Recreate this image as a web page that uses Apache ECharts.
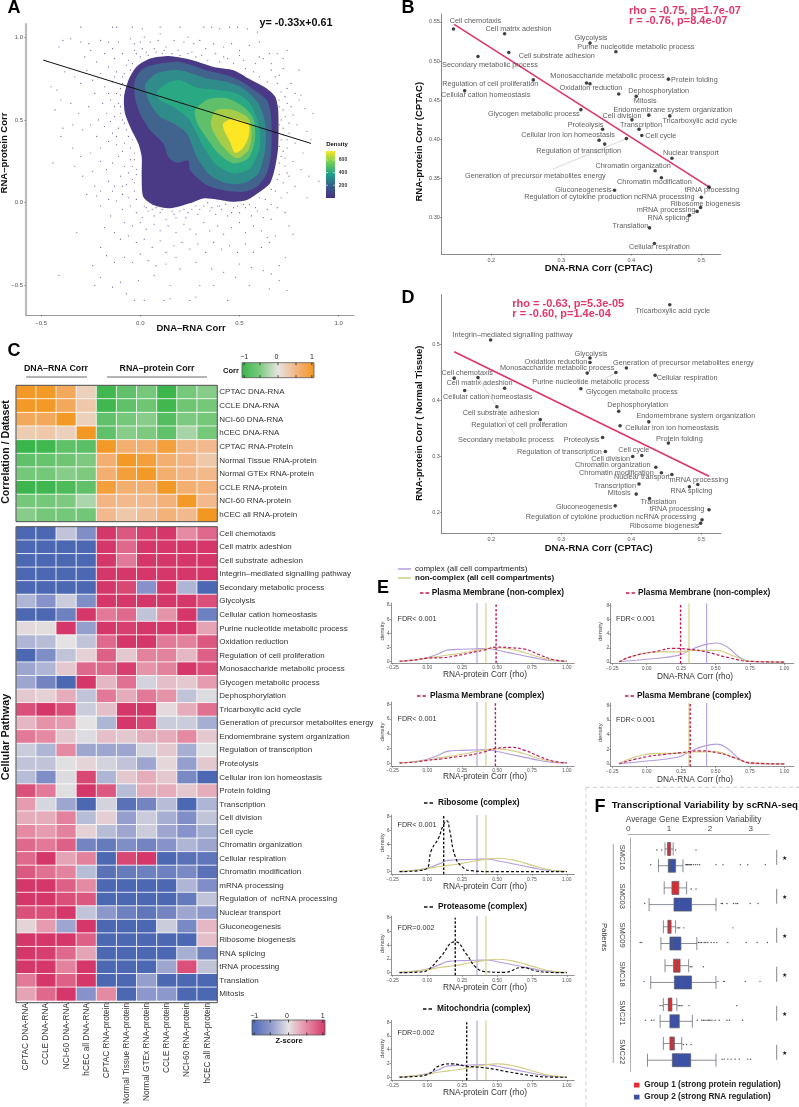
<!DOCTYPE html>
<html><head><meta charset="utf-8">
<style>html,body{margin:0;padding:0;background:#fff}#c{width:799px;height:1107px}</style>
<script src="https://cdn.jsdelivr.net/npm/echarts@6/dist/echarts.min.js"></script>
</head><body><div id="c"></div>
<script>
// ---------- DATA ----------
const aContour1=[[-.06,.74],[-.02,.82],[.05,.87],[.15,.885],[.25,.865],[.37,.82],[.47,.8],[.545,.75],[.637,.69],[.68,.64],[.695,.56],[.695,.34],[.68,.217],[.654,.117],[.603,.066],[.536,.016],[.469,.006],[.385,.02],[.318,.026],[.25,-.004],[.15,-.034],[.066,-.014],[.015,.036],[.007,.157],[.007,.278],[-.01,.358],[-.044,.439],[-.077,.539],[-.082,.64]];
const aContour2=[[-.027,.74],[.015,.81],[.1,.84],[.2,.85],[.334,.8],[.435,.77],[.5,.74],[.587,.67],[.637,.62],[.657,.54],[.662,.418],[.657,.278],[.637,.177],[.587,.097],[.519,.066],[.435,.072],[.334,.107],[.25,.197],[.242,.254],[.183,.241],[.141,.278],[.116,.358],[.049,.439],[-.002,.539],[-.027,.64]];
const aContour3=[[.024,.71],[.082,.78],[.2,.8],[.334,.75],[.435,.73],[.519,.69],[.595,.6],[.629,.479],[.629,.318],[.595,.177],[.519,.117],[.435,.117],[.351,.167],[.284,.278],[.234,.419],[.166,.479],[.099,.519],[.049,.6]];
const aContour4=[[.086,.67],[.133,.72],[.2,.74],[.284,.696],[.368,.684],[.486,.66],[.553,.6],[.595,.479],[.603,.338],[.553,.207],[.469,.177],[.385,.227],[.318,.338],[.284,.419],[.242,.509],[.166,.579],[.099,.62]];
const aContour5=[[.276,.559],[.343,.624],[.435,.63],[.519,.579],[.57,.509],[.578,.378],[.545,.268],[.469,.237],[.393,.298],[.318,.419],[.284,.489]];
const aContour6=[[.355,.489],[.385,.559],[.469,.559],[.545,.509],[.561,.419],[.545,.318],[.486,.268],[.418,.338],[.368,.429]];
const aContour7=[[.418,.479],[.469,.509],[.545,.475],[.545,.398],[.516,.328],[.477,.302],[.452,.368],[.422,.439]];
const aContourColors=['#4a3a85','#41648f','#2f8c8b','#2aa884','#5fbf6b','#a5cd48','#fde725'];
const aFitLine=[[-.489,.861],[.86,.358]];
const aNoise=[[-.3,1.06],[-.14,1.06],[-.12,1.06],[-.04,1.06],[.01,1.05],[.1,1.06],[.2,1.06],[.32,1.06],[.36,1.06],[.4,1.05],[.45,1.06],[.49,1.06],[.54,1.05],[.59,1.03],
[-.41,.94],[-.39,.98],[-.35,.99],[-.3,.97],[-.26,.96],[-.25,.92],[-.2,.98],[-.16,.97],[-.14,.93],[-.11,.97],[-.05,.99],[-.03,.96],[0,.97],[.02,1],[.05,.97],[.09,.98],[.1,1.02],[.13,.94],[.17,.98],[.22,.97],[.24,1],[.27,.96],[.3,.98],[.33,.93],[.37,.96],[.42,.94],[.46,.96],[.5,.92],[.55,.95],[.6,.97],[.65,.9],[.69,.9],[.72,.87],[.74,.92],[.8,.8],
[-.28,.88],[-.22,.85],[-.18,.9],[-.13,.87],[-.09,.9],[-.06,.86],[-.03,.92],[0,.88],[.03,.91],[.07,.93],[.11,.9],[.19,.92],[.26,.91],[.31,.89],[.38,.9],[.44,.87],[.52,.86],[.58,.84],[.62,.87],[.66,.8],[.7,.77],[.76,.72],[.72,.81],[.78,.66],[.81,.65],[.74,.69],
[-.45,.7],[-.42,.68],[-.38,.79],[-.33,.76],[-.3,.72],[-.27,.8],[-.24,.74],[-.2,.78],[-.18,.7],[-.16,.82],[-.14,.73],[-.12,.79],[-.1,.69],[-.09,.76],[-.07,.83],[-.12,.66],[-.15,.62],[-.19,.6],[-.23,.66],[-.26,.58],[-.31,.54],[-.35,.6],[-.4,.62],[-.43,.56],[-.1,.58],[-.13,.52],[-.17,.54],[-.21,.5],[-.25,.47],[-.29,.44],[-.34,.47],[-.39,.45],[-.4,.4],[-.09,.5],[-.11,.45],[-.14,.42],[-.18,.46],[-.22,.4],[-.06,.4],[-.08,.36],[-.12,.35],[-.16,.37],[-.2,.33],[-.25,.3],[-.3,.28],[-.34,.33],[-.44,.24],[-.03,.3],[-.05,.26],[-.08,.22],[-.11,.28],[-.14,.24],[-.17,.2],[-.2,.25],[-.24,.19],[-.29,.16],[-.33,.22],[-.02,.2],[-.04,.14],[-.07,.11],[-.1,.16],[-.13,.1],[-.16,.13],[-.2,.07],[-.23,.1],[-.27,.05],[-.03,.07],[-.06,.03],[-.09,.05],[-.12,.01],[-.16,.02],[-.2,-.02],[-.22,.04],
[.7,.62],[.72,.56],[.74,.6],[.71,.5],[.77,.53],[.8,.62],[.83,.57],[.87,.54],[.72,.45],[.75,.42],[.79,.47],[.84,.43],[.71,.38],[.74,.33],[.78,.36],[.82,.3],[.86,.38],[.71,.28],[.73,.22],[.77,.25],[.81,.2],[.85,.16],[.9,.13],[.7,.17],[.72,.12],[.75,.16],[.78,.1],[.68,.07],[.71,.03],[.74,.06],[.84,.03],[.63,.02],[.66,-.01],[.69,-.03],[.73,-.06],
[-.09,-.04],[-.05,-.02],[-.02,-.06],[.01,-.09],[.04,-.05],[.07,-.08],[.1,-.06],[.13,-.1],[.17,-.07],[.2,-.05],[.23,-.09],[.26,-.04],[.29,-.07],[.32,-.02],[.35,-.05],[.36,-.03],[.38,-.07],[.41,-.04],[.44,-.08],[.47,-.03],[.5,-.06],[.53,-.03],[.56,-.08],[.59,-.05],[.62,-.09],[.66,-.1],[-.08,-.12],[-.04,-.14],[0,-.12],[.03,-.16],[.07,-.13],[.1,-.17],[.14,-.14],[.18,-.18],[.22,-.13],[.25,-.16],[.28,-.19],[.32,-.12],[.35,-.17],[.39,-.14],[.42,-.19],[.46,-.15],[.5,-.12],[.53,-.18],[.57,-.14],[.61,-.17],[.64,-.21],[.68,-.2],[.75,-.14],[.77,-.19],
[-.15,-.08],[-.13,-.18],[-.1,-.22],[-.06,-.2],[-.02,-.24],[.02,-.22],[.06,-.27],[.1,-.23],[.13,-.3],[.17,-.26],[.21,-.24],[.25,-.28],[.29,-.25],[.33,-.3],[.37,-.24],[.41,-.28],[.45,-.26],[.49,-.3],[.53,-.25],[.57,-.3],[.61,-.27],[.65,-.24],[-.18,-.15],[-.2,-.27],[-.17,-.32],[-.13,-.36],[-.08,-.33],[-.04,-.36],[0,-.31],[.04,-.35],[.08,-.38],[.13,-.37],[.18,-.33],[.2,-.4],[.28,-.36],[.36,-.4],[.42,-.42],[.5,-.37],[.56,-.39],[.62,-.41],[.73,-.33],[.7,-.38],[-.32,-.18],[-.24,-.38],[-.41,-.44],[-.23,-.5],[-.2,-.45],[-.14,-.51],[-.1,-.48],[-.07,-.55],[-.03,-.59],[.02,-.59],[.12,-.59],[.15,-.58],[.25,-.59],[.28,-.57],[.3,-.5],[.44,-.59],[.37,-.5],[.48,-.45],[.55,-.5],[.65,-.52],[.66,-.43],[.74,-.53],[.7,-.47],[.15,-.5],[-.01,-.47],[.07,-.44],
[-.02,.9],[.01,.93],[.04,.89],[.08,.91],[.12,.92],[.16,.9],[.2,.89],[.24,.9],[.28,.88],[.34,.86],[.4,.85],[.47,.84],[.53,.81],[.57,.79],[.6,.76],[.64,.73],[.69,.72],[.71,.67],[.73,.64],[.7,.58],[.73,.52],[.7,.47],[.72,.41],[.7,.34],[.72,.31],[.7,.24],[.69,.14],[.66,.08],[.6,.03],[.55,-.01],[.49,-.02],[.43,-.01],[.39,-.02],[.34,0],[.28,-.02],[.22,-.04],[.16,-.05],[.11,-.04],[.06,-.04],[.02,-.02],[-.02,.02],[-.03,.12],[-.02,.17],[-.04,.22],[-.03,.26],[-.05,.33],[-.04,.38],[-.07,.44],[-.08,.48],[-.1,.54],[-.11,.6],[-.1,.65],[-.09,.72],[-.08,.78],[-.05,.8],[-.04,.84],[-.13,.76],[-.16,.66],[-.13,.58],[-.15,.49],[-.12,.4],[-.09,.31],[-.09,.1],[-.14,.07],[-.06,.18],[.03,-.03],[.08,-.03],[.18,-.09],[.24,-.06],[.3,-.04],[.4,-.02],[.46,-.06],[.52,-.01],[.58,-.03],[.64,-.04],[.74,.18],[.73,.27],[.74,.38],[.75,.48],[.76,.58],[.68,.76],[.66,.84],[.6,.88],[.5,.89],[.42,.88]];
const aLegendTicks=[200,400,600];

const bdNames=['Cell chemotaxis','Cell matrix adeshion','Secondary metabolic process','Cell substrate adhesion','Glycolysis','Purine nucleotide metabolic process','Regulation of cell proliferation','Cellular cation homeostasis','Monosaccharide metabolic process','Oxidation reduction','Protein folding','Dephosphorylation','Mitosis','Glycogen metabolic process','Endomembrane system organization','Tricarboxylic acid cycle','Cell division','Transcription','Proteolysis','Cellular iron ion homeostasis','Regulation of transcription','Generation of precursor metabolites energy','Cell cycle','Nuclear transport','Chromatin organization','Chromatin modification','tRNA processing','Gluconeogenesis','Regulation of cytokine production ncRNA processing','Ribosome biogenesis','mRNA processing','RNA splicing','Translation','Cellular respiration'];
const bPoints=[[.146,.541],[.219,.535],[.181,.506],[.225,.511],[.341,.523],[.378,.512],[.26,.476],[.162,.462],[.336,.472],[.341,.471],[.453,.477],[.382,.458],[.407,.455],[.328,.438],[.425,.431],[.455,.43],[.401,.425],[.411,.413],[.359,.413],[.354,.399],[.362,.394],[.393,.401],[.415,.405],[.458,.376],[.434,.36],[.443,.351],[.511,.339],[.376,.335],[.5,.326],[.499,.313],[.494,.308],[.483,.303],[.426,.287],[.433,.267]];
const bLabelShift=[[22,-8],[14,-5],[12,9],[48,3],[1,-5],[20,-5],[-43,4],[21,4],[21,-7],[1,4],[26,1],[40,-3],[9,5],[-47,4],[24,-5],[30,5],[-10,-4],[2,-4],[-17,-4],[-31,-5],[-26,7],[-91,37],[19,1],[19,-5],[-22,-5],[-7,4],[3,3],[-31,0],[-92,0],[5,-4],[-31,-1],[-21,3],[-19,-2],[5,3]];
const bFit=[[.147,.547],[.513,.338]];
const bLeader=[[.393,.401],[.288,.362]];
const dNames=['Tricarboxylic acid cycle','Integrin–mediated signalling pathway','Glycolysis','Oxidation reduction','Generation of precursor metabolites energy','Monosaccharide metabolic process','Purine nucleotide metabolic process','Cellular respiration','Cell chemotaxis','Secondary metabolic process','Cell matrix adeshion','Cellular cation homeostasis','Glycogen metabolic process','Dephosphorylation','Cell substrate adhesion','Regulation of cell proliferation','Endomembrane system organization','Cellular iron ion homeostasis','Proteolysis','Protein folding','Regulation of transcription','Cell cycle','Cell division','Chromatin organization','Chromatin modification','Nuclear transport','mRNA processing','Transcription','RNA splicing','Mitosis','Translation','Gluconeogenesis','tRNA processing','Regulation of cytokine production ncRNA processing','Ribosome biogenesis'];
const dPoints=[[.455,.57],[.199,.507],[.341,.475],[.341,.467],[.393,.457],[.337,.448],[.378,.449],[.434,.444],[.147,.439],[.181,.44],[.219,.421],[.162,.417],[.328,.42],[.382,.38],[.208,.388],[.27,.365],[.425,.361],[.384,.354],[.359,.333],[.453,.323],[.363,.308],[.415,.301],[.402,.299],[.435,.28],[.443,.27],[.458,.267],[.495,.249],[.411,.25],[.483,.245],[.407,.232],[.426,.224],[.377,.211],[.511,.204],[.501,.186],[.499,.18]];
const dLabelShift=[[3,6],[22,-5],[1,-4],[-34,0],[57,-5],[-30,-5],[-25,9],[32,3],[13,-5],[28,62],[-25,-5],[23,7],[51,3],[19,-6],[4,6],[-21,5],[47,-6],[52,2],[-21,2],[11,-4],[-46,0],[-8,-5],[-22,2],[-43,-2],[-45,0],[-30,3],[1,-5],[-24,2],[2,4],[-17,-1],[9,3],[-31,1],[-32,-1],[-91,-3],[-36,3]];
const dFit=[[.147,.486],[.511,.264]];
const dLeader1=[[.181,.44],[.233,.34]];
const dLeader2=[[.378,.449],[.36,.436]];

const cColumns=['CPTAC DNA-RNA','CCLE DNA-RNA','NCI-60 DNA-RNA','hCEC all DNA-RNA','CPTAC RNA-protein','Normal Tissue RNA-protein','Normal GTEx RNA-protein','CCLE RNA-protein','NCI-60 RNA-protein','hCEC all RNA-protein'];
const cCorrRows=['CPTAC DNA-RNA','CCLE DNA-RNA','NCI-60 DNA-RNA','hCEC DNA-RNA','CPTAC RNA-Protein','Normal Tissue RNA-protein','Normal GTEx RNA-protein','CCLE RNA-protein','NCI-60 RNA-protein','hCEC all RNA-protein'];
const cCorr=[[.95,.95,.7,.2,-.95,-.7,-.55,-.98,-.55,-.45],[.95,.95,.7,.3,-.95,-.7,-.6,-.95,-.6,-.55],[.7,.7,.95,.2,-.7,-.55,-.45,-.8,-.5,-.55],[.25,.3,.2,.98,-.7,-.45,-.5,-.7,-.3,-.55],[-1,-.95,-.72,-.75,.95,.6,.6,.85,.5,.45],[-.7,-.65,-.6,-.5,.6,.95,.85,.6,.5,.3],[-.55,-.55,-.45,-.5,.6,.85,.95,.6,.5,.45],[-.98,-.95,-.85,-.7,.85,.6,.6,.95,.6,.55],[-.55,-.55,-.5,-.28,.5,.45,.45,.55,.95,.45],[-.45,-.55,-.55,-.58,.45,.3,.4,.55,.45,.98]];
const cPathRows=['Cell chemotaxis','Cell matrix adeshion','Cell substrate adhesion','Integrin–mediated signalling pathway','Secondary metabolic process','Glycolysis','Cellular cation homeostasis','Purine nucleotide metabolic process','Oxidation reduction','Regulation of cell proliferation','Monosaccharide metabolic process','Glycogen metabolic process','Dephosphorylation','Tricarboxylic acid cycle','Generation of precursor metabolites energy','Endomembrane system organization','Regulation of transcription','Proteolysis','Cellular iron ion homeostasis','Protein folding','Transcription','Cell division','Cell cycle','Chromatin organization','Cellular respiration','Chromatin modification','mRNA processing','Regulation of  ncRNA processing','Nuclear transport','Gluconeogenesis','Ribosome biogenesis','RNA splicing','tRNA processing','Translation','Mitosis'];
const cPath=[[-1,-1,-.2,-.6,1,.8,.95,1,.5,.7],[-1,-1,-1,-1,1,.7,1,1,1,1],[-1,-1,-1,-1,1,.6,1,1,1,1],[-1,-1,-1,-1,1,1,1,1,1,1],[-1,-1,-1,-1,1,.9,-.55,1,-.3,-1],[-.3,-.55,-.15,-.6,1,1,1,1,1,.85],[-1,-1,-.75,1,.6,.7,-.2,.45,1,-.75],[.05,.03,1,-.45,1,.95,1,1,1,.35],[-.3,-.25,0,-.2,.7,1,1,.6,.55,.8],[-1,-.6,-.2,.1,.75,.15,.55,.55,.25,.75],[-.4,-.3,.15,.7,.7,.95,.45,.55,1,.85],[-.4,-.7,-1,1,.25,.65,-.1,.2,.15,.4],[.15,.1,.3,-.2,.6,.3,.6,.45,-.2,-.05],[.85,1,.85,-.15,.2,1,1,.05,.3,.65],[.25,.45,.4,0,-.3,1,.9,-.15,-.15,-.35],[.6,.5,.15,-.05,.2,.15,.3,.3,.5,.15],[-.15,-.3,.5,-.4,-.4,-.4,-.1,.15,-.35,-.02],[-.2,-.2,-.02,.08,-.1,-.2,-.4,.07,-.45,.15],[-.25,-.6,-.05,.9,-.3,.15,.3,.15,-.65,-1],[.85,.6,-.03,1,.8,-.25,.3,.3,.15,.3],[.4,-.08,-.4,-1,-.1,-.9,-.7,-.25,-1,-.3],[.3,.3,.55,-.25,.12,-.45,-.15,-.35,-.6,-.2],[.5,.4,.55,.1,-.25,-.4,-.15,-.4,-.55,-.35],[.7,.6,.75,-.7,-.8,-.6,-.7,-.55,-.3,-.4],[.7,1,.35,.55,-1,.9,1,-1,-.9,-.85],[.8,.65,.55,-.25,-.9,-.8,-.75,-.75,-.65,-.9],[1,1,.75,.5,-1,-1,-1,-1,-.3,-.6],[1,1,.85,.8,-1,-1,-1,-1,-.8,-.2],[.85,.85,1,-.2,-.5,-.75,-.85,-.7,-.4,-.5],[.08,.4,-.4,1,-1,-1,-1,-.15,-.65,.25],[1,1,1,.75,-1,-1,-1,-1,-1,.2],[1,.95,.7,.35,-1,-1,-1,-1,-.35,-.75],[1,1,.55,1,-1,-1,-1,-.4,.85,-.2],[.6,1,.75,1,-1,-1,-.45,-1,-1,-1],[.35,.7,1,-.55,.5,-1,-.5,-.5,-1,-1]];
const cCorrColors=['#39b54a','#7cc97f','#e6e4e0','#f3b583','#f2961e'];
const cZColors=['#4d68b2','#8c97cb','#e4e2e2','#e58aa3','#d5376a'];

const eRnaComplex=[[-.2,.05],[-.1,.2],[0,.55],[.08,1.1],[.15,1.65],[.25,1.75],[.35,1.8],[.42,1.85],[.5,1.6],[.6,1.2],[.7,.8],[.8,.4],[.9,.12],[1,.03]];
const eRnaNon=[[-.2,.05],[-.1,.2],[0,.45],[.1,.8],[.2,1.05],[.3,1.4],[.4,1.75],[.5,1.95],[.6,1.75],[.7,1.25],[.8,.65],[.9,.2],[1,.04]];
const eDnaComplex=[[-.2,.05],[0,.4],[.23,.95],[.31,1.65],[.41,2.4],[.51,2.7],[.59,2.05],[.68,.6],[.77,.05],[1,0]];
const eDnaNon=[[-.2,.05],[-.1,.85],[.07,1.45],[.22,1.45],[.34,1.65],[.51,1.65],[.63,.85],[.75,.15],[1,0]];
const ePmNonRna=[[-.2,.05],[-.1,.2],[0,.5],[.1,.55],[.2,.8],[.3,1.2],[.4,1.6],[.5,2.05],[.6,1.95],[.7,1.75],[.8,1],[.9,.3],[1,.05]];
const ePmComplexRna=[[-.2,.05],[-.1,.15],[0,.4],[.1,.6],[.2,.85],[.3,1.1],[.4,1.5],[.5,2.05],[.6,2.15],[.7,1.75],[.8,.95],[.9,.3],[1,.05]];
const ePmNonDna=[[-.2,.05],[-.1,.85],[.07,1.5],[.19,1.95],[.31,1.8],[.43,1.45],[.6,.6],[.75,.1],[1,0]];
const ePmComplexDna=[[-.2,.05],[0,1],[.13,1.3],[.25,1.55],[.38,1.8],[.52,1.5],[.64,.85],[.76,.15],[1,0]];
const eRibosome=[[-.2,0],[-.02,.3],[.03,3.2],[.08,4.9],[.115,6.8],[.14,7.4],[.16,6],[.2,2.2],[.25,.7],[.31,.15],[.5,0],[1,0]];
const eProteasome=[[-.2,0],[-.05,.1],[0,.35],[.09,2.2],[.2,4.5],[.28,2.7],[.35,.75],[.42,.15],[.55,.05],[.68,.75],[.78,.25],[.88,.05],[1,0]];
const eMito=[[-.2,.02],[-.1,.1],[0,.4],[.09,1.7],[.175,1.95],[.28,1.6],[.425,1.35],[.59,.75],[.76,.2],[.88,.03],[1,0]];
const eMedians={rnaComplex:.356,rnaNon:.42,dnaComplex:.435,dnaNon:.307,pmNonRna:.493,pmComplexRna:.488,pmNonDna:.246,pmComplexDna:.316,ribosome:.117,proteasome:.2,mito:.282};

const fPatients=['SMC16','SMC03','SMC09','SMC18','SMC21','SMC22'];
const fRedBoxes=[[.9,.96,1,1.04,1.1],[.88,1.07,1.15,1.24,1.43],[.86,.97,1,1.05,1.16],[.9,1.11,1.18,1.27,1.48],[.86,.98,1,1.07,1.19],[.86,1.02,1.07,1.13,1.31]];
const fBlueBoxes=[[.74,.98,1.04,1.16,1.34],[.51,1.12,1.26,1.55,2.15],[.8,1.02,1.08,1.29,1.68],[.55,1.13,1.31,1.55,2.15],[.78,1.02,1.11,1.25,1.57],[.47,1.08,1.2,1.53,2.15]];
const fRedOut=[[.7,.82,1.16,1.66],[1.54,1.66],[1.2,1.23,1.26,1.36,2.57],[1.52,1.56,1.84],[.78,.83,1.22,1.25,1.29,1.32,1.49,2.66],[1.35,1.43,1.54]];
const fBlueOut=[[.55,1.41,1.43,1.45,1.47,1.5,1.53,1.55,1.6,1.65,1.7,1.75,2.15,2.32,2.75,2.93,3.36],[.4,2.28,2.31,2.42,2.58,2.64,2.68,2.99,3.18],[.29,.33,1.72,1.76,1.8,1.86,1.9,1.95,2.03,2.1,2.17,2.44,2.89,3.16,3.41],[.39,2.2,2.34,2.36,2.87,3.23],[.42,.57,.63,1.69,1.8,1.84,1.88,1.93,1.97,2,2.05,2.13,2.23,2.42,2.48,2.8],[2.3,2.35,2.44,2.52,2.62,2.72,2.93,3]];

// ---------- HELPERS ----------
const FONT='"Liberation Sans",Arial,sans-serif';
const grids=[],xAxes=[],yAxes=[],series=[],gfx=[],vmaps=[];
function T(x,y,text,o={}){gfx.push({type:'text',x,y,rotation:(o.rot||0)*Math.PI/180,z:50,silent:true,style:{text,fill:o.color||'#111',
 font:(o.bold?'bold ':'')+(o.size||8)+'px '+FONT,align:o.align||'center',verticalAlign:'middle',textAlign:o.align||'center',textVerticalAlign:'middle'}});}
function L(x1,y1,x2,y2,color,w,dash){gfx.push({type:'line',z:50,silent:true,shape:{x1,y1,x2,y2},style:{stroke:color,lineWidth:w||1,lineDash:dash||null}});}
function R(x,y,w,h,fill,stroke,sw){gfx.push({type:'rect',z:50,silent:true,shape:{x,y,width:w,height:h},style:{fill:fill||'none',stroke:stroke||'none',lineWidth:sw||1}});}
function plot(box,xa,ya){const i=grids.length;
 grids.push({left:box[0],top:box[1],width:box[2]-box[0],height:box[3]-box[1],containLabel:false});
 xAxes.push(Object.assign({gridIndex:i,splitLine:{show:false}},xa));
 yAxes.push(Object.assign({gridIndex:i,splitLine:{show:false}},ya));
 return i;}
function valAxis(min,max,ticks,fmt,fs,color,lw,margin){return {type:'value',min,max,
 axisLine:{show:true,onZero:false,lineStyle:{color:color||'#8a8a8a',width:lw||1}},
 axisTick:{show:true,length:1.5,customValues:ticks,lineStyle:{color:'#555',width:.6}},
 axisLabel:{customValues:ticks,fontSize:fs,color:'#555',fontFamily:FONT,margin:margin||2.5,formatter:fmt}};}
const fix=n=>v=>v.toFixed(n).replace('-','−');

// ---------- PANEL A ----------
{const g=plot([26,24,354,315],valAxis(-.576,1.077,[-.5,0,.5,1],fix(1),6,'#999',1.2,5),valAxis(-.678,1.079,[-.5,0,.5,1],fix(1),6,'#bbb',2.2,3));
 series.push({type:'scatter',xAxisIndex:g,yAxisIndex:g,data:aNoise,symbolSize:1.2,silent:true,itemStyle:{color:'#4b3287',opacity:.8}});
 [aContour1,aContour2,aContour3,aContour4,aContour5,aContour6,aContour7].forEach((poly,k)=>{
  series.push({type:'custom',xAxisIndex:g,yAxisIndex:g,data:[[k]],silent:true,z:3+k,clip:false,
   renderItem:(p,api)=>({type:'polygon',shape:{points:poly.map(c=>api.coord(c)),smooth:.25},style:{fill:aContourColors[k]}})});});
 series.push({type:'line',xAxisIndex:g,yAxisIndex:g,data:aFitLine,symbol:'none',z:20,lineStyle:{color:'#111',width:1},silent:true});
 T(296,23,'y= -0.33x+0.61',{size:10.8,bold:true});
 T(191,328,'DNA–RNA Corr',{size:9.5,bold:true});
 T(4,153,'RNA–protein Corr',{size:9.5,bold:true,rot:90});
 T(337,144,'Density',{size:6,bold:true});
 gfx.push({type:'rect',z:50,silent:true,shape:{x:326,y:151,width:9,height:47},style:{fill:{type:'linear',x:0,y:1,x2:0,y2:0,colorStops:[{offset:0,color:'#46327e'},{offset:.25,color:'#365c8d'},{offset:.5,color:'#1f9e89'},{offset:.75,color:'#6ece58'},{offset:1,color:'#fde725'}]}}});
 aLegendTicks.forEach((v,i)=>{const y=185.3-i*12.65;L(326,y,328,y,'#fff',.6);L(333,y,335,y,'#fff',.6);T(343,y,String(v),{size:5,bold:true,color:'#333'});});
}
// ---------- PANELS B, D ----------
function labelled(g,pts,names,shift,fit,leaders){
 series.push({type:'line',xAxisIndex:g,yAxisIndex:g,data:fit,symbol:'none',z:4,lineStyle:{color:'#dc3566',width:1.6},silent:true});
 leaders.forEach(l=>series.push({type:'line',xAxisIndex:g,yAxisIndex:g,data:l,symbol:'none',z:3,lineStyle:{color:'#bdbdbd',width:.6},silent:true}));
 series.push({type:'scatter',xAxisIndex:g,yAxisIndex:g,symbolSize:3.6,z:5,silent:true,itemStyle:{color:'#111'},
  label:{show:true,position:'inside',formatter:'{b}',fontSize:7.3,color:'#333',fontFamily:FONT},
  data:pts.map((p,i)=>({name:names[i],value:p,label:{offset:shift[i]}}))});
}
{const g=plot([441.3,14,720.7,254],valAxis(.1286,.5277,[.2,.3,.4,.5],fix(1),5.5,'#8a8a8a',1,3),valAxis(.2536,.5602,[.3,.35,.4,.45,.5,.55],fix(2),5.5,'#8a8a8a',1,1.5));
 labelled(g,bPoints,bdNames,bLabelShift,bFit,[bLeader]);
 T(629,10.7,'rho = -0.75, p=1.7e-07',{size:11,bold:true,color:'#e0386b',align:'left'});
 T(629,21.3,'r = -0.76, p=8.4e-07',{size:11,bold:true,color:'#e0386b',align:'left'});
 T(598.7,268,'DNA-RNA Corr (CPTAC)',{size:9.5,bold:true});
 T(419,141.7,'RNA-protein Corr (CPTAC)',{size:9.5,bold:true,rot:90});
}
{const g=plot([441.3,294.7,720.7,533.3],valAxis(.1286,.5277,[.2,.3,.4,.5],fix(1),5.5,'#8a8a8a',1,3),valAxis(.162,.588,[.2,.3,.4,.5],fix(1),5.5,'#8a8a8a',1,1.5));
 labelled(g,dPoints,dNames,dLabelShift,dFit,[dLeader1,dLeader2]);
 T(512.3,304,'rho = -0.63, p=5.3e-05',{size:11,bold:true,color:'#e0386b',align:'left'});
 T(512.3,314.3,'r = -0.60, p=1.4e-04',{size:11,bold:true,color:'#e0386b',align:'left'});
 T(598.7,548,'DNA-RNA Corr (CPTAC)',{size:9.5,bold:true});
 T(419,423.3,'RNA-protein Corr ( Normal Tissue)',{size:9.5,bold:true,rot:90});
}
// ---------- PANEL C ----------
function heat(box,rows,matrix,colors,showX){
 const g=plot(box,
  {type:'category',data:cColumns,position:'bottom',axisLine:{show:false},axisTick:{show:false},
   axisLabel:{show:showX,rotate:90,interval:0,fontSize:8.3,color:'#333',fontFamily:FONT,margin:2}},
  {type:'category',data:rows,inverse:true,position:'right',axisLine:{show:false},axisTick:{show:false},
   axisLabel:{interval:0,fontSize:8,color:'#333',fontFamily:FONT,margin:2}});
 const data=[];matrix.forEach((r,y)=>r.forEach((v,x)=>data.push([x,y,v])));
 vmaps.push({show:false,min:-1,max:1,dimension:2,seriesIndex:series.length,inRange:{color:colors}});
 series.push({type:'heatmap',xAxisIndex:g,yAxisIndex:g,data,silent:true,itemStyle:{borderColor:'#fff',borderWidth:.8},progressive:0});
 R(box[0],box[1],box[2]-box[0],box[3]-box[1],null,'#4a4a4a',1);
}
heat([16,385.3,217.3,521.7],cCorrRows,cCorr,cCorrColors,false);
heat([16,526.7,217.3,1002.7],cPathRows,cPath,cZColors,true);
T(56,369,'DNA–RNA Corr',{size:8.8,bold:true});L(26,377,87,377,'#444',.8);
T(157,369,'RNA–protein Corr',{size:8.8,bold:true});L(107,377,207,377,'#444',.8);
T(6,452,'Correlation / Dataset',{size:10.6,bold:true,rot:90});
T(6,737,'Cellular Pathway',{size:10.8,bold:true,rot:90});
function colorbar(x,y,w,h,cols,tickY){
 gfx.push({type:'rect',z:50,silent:true,shape:{x,y,width:w,height:h},style:{fill:{type:'linear',x:0,y:0,x2:1,y2:0,colorStops:cols.map((c,i)=>({offset:i/(cols.length-1),color:c}))},stroke:'#555',lineWidth:.8}});
 [.03,.25,.5,.75,.97].forEach(f=>{const t=x+w*f;L(t,y,t,y+2.5,'#111',.7);L(t,y+h-2.5,t,y+h,'#111',.7);});
 [['−1',.03],['0',.48],['1',.97]].forEach(a=>T(x+w*a[1],tickY,a[0],{size:7,color:'#222'}));
}
colorbar(242,362.7,72,15,cCorrColors,357);T(231,371,'Corr',{size:7.5,bold:true});
colorbar(252,1020,73,15,cZColors,1016);T(289,1041,'Z-score',{size:7.5,bold:true});
// ---------- PANEL E ----------
const PUR='#b39ddb',YEL='#d3cd82',PNK='#c2185b',BLK='#111';
function density(box,xmin,xmax,ymin,ymax,cx,cy,curves,xName,yNameX){
 const g=plot(box,valAxis(xmin,xmax,[-.25,0,.25,.5,.75,1],fix(2),5,'#777',.8,2.5),valAxis(ymin,ymax,[0,2,4,6,8],v=>String(v),5,'#777',.8,1.5));
 curves.forEach(c=>{
  series.push({type:'line',xAxisIndex:g,yAxisIndex:g,data:c.d,symbol:'none',smooth:.5,silent:true,z:c.z||3,lineStyle:{color:c.c,width:c.dash?1.2:1.1,type:c.dash?[3,2]:'solid'}});
  series.push({type:'line',xAxisIndex:g,yAxisIndex:g,data:[[c.m,ymin],[c.m,c.top||ymax]],symbol:'none',silent:true,z:c.z||3,lineStyle:{color:c.c,width:c.dash?1.4:1.1,type:c.dash?[2.5,1.8]:'solid'}});
 });
 T(cx,cy,xName,{size:8.3,color:'#333'});
 T(yNameX,(box[1]+box[3])/2-2,'density',{size:6,color:'#444',rot:90});
}
function eTitle(y,x1,x2,tx,text,color){L(x1,y,x2,y,color,1.4,[3.5,2]);T(tx,y,text,{size:8.3,bold:true,align:'left'});}
const base=[{d:eRnaComplex,c:PUR,m:eMedians.rnaComplex},{d:eRnaNon,c:YEL,m:eMedians.rnaNon}];
const baseD=[{d:eDnaComplex,c:PUR,m:eMedians.dnaComplex},{d:eDnaNon,c:YEL,m:eMedians.dnaNon}];
const RX=[391,574.3],DX=[610.7,793.7];
density([RX[0],603,RX[1],663],-.261,1.054,-.2,8.28,485,675,base.concat({d:ePmNonRna,c:PNK,m:eMedians.pmNonRna,dash:1,z:5,top:8.1}),'RNA-protein Corr (rho)',382);
density([RX[0],702,RX[1],766],-.261,1.054,-.37,8.31,485,777,base.concat({d:ePmComplexRna,c:PNK,m:eMedians.pmComplexRna,dash:1,z:5,top:8.31}),'RNA-protein Corr (rho)',382);
density([RX[0],815,RX[1],874.3],-.261,1.054,-.38,8.25,485,887,base.concat({d:eRibosome,c:BLK,m:eMedians.ribosome,dash:1,z:5,top:8.1}),'RNA-protein Corr (rho)',382);
density([RX[0],916,RX[1],975.3],-.261,1.054,-.38,8.25,485,988,base.concat({d:eProteasome,c:BLK,m:eMedians.proteasome,dash:1,z:5,top:8}),'RNA-protein Corr (rho)',382);
density([RX[0],1020.5,RX[1],1080.3],-.261,1.054,-.44,8.25,485,1093,base.concat({d:eMito,c:BLK,m:eMedians.mito,dash:1,z:5,top:8}),'RNA-protein Corr (rho)',382);
density([DX[0],603.5,DX[1],663.5],-.261,1.067,-.2,8.28,695,677,baseD.concat({d:ePmNonDna,c:PNK,m:eMedians.pmNonDna,dash:1,z:5,top:8.1}),'DNA-RNA Corr (rho)',600);
density([DX[0],703,DX[1],766.7],-.261,1.067,-.37,8.31,695,780,baseD.concat({d:ePmComplexDna,c:PNK,m:eMedians.pmComplexDna,dash:1,z:5,top:8.31}),'DNA-RNA Corr (rho)',600);
L(398,569,411,569,PUR,1.5);T(415,569,'complex (all cell compartments)',{size:8,align:'left',color:'#222'});
L(398,578,411,578,YEL,1.5);T(415,578,'non-complex (all cell compartments)',{size:8,bold:true,align:'left'});
eTitle(593,420,430,431.7,'Plasma Membrane (non-complex)',PNK);
eTitle(696,417,427,430,'Plasma Membrane (complex)',PNK);
eTitle(593,626,636,638,'Plasma Membrane (non-complex)',PNK);
eTitle(696,625,635,637,'Plasma Membrane (complex)',PNK);
eTitle(803,424,434,438,'Ribosome (complex)',BLK);
eTitle(907,424,434,438,'Proteasome (complex)',BLK);
eTitle(1009,423,433,437,'Mitochondria (complex)',BLK);
[[397.5,619,'FDR< 0.001'],[397.5,719,'FDR< 0.001'],[397.5,825,'FDR< 0.001'],[397.5,928,'FDR=0.002'],[397.5,1033,'FDR=0.002'],[616,619,'FDR< 0.001'],[616,720,'FDR< 0.001']].forEach(a=>T(a[0],a[1],a[2],{size:7.2,align:'left',color:'#333'}));
// ---------- PANEL F ----------
{const g=plot([628.3,837.9,769,1071.3],
  {type:'value',min:0,max:3.45,position:'top',offset:3.6,axisLine:{show:true,onZero:false,lineStyle:{color:'#999',width:.8}},
   axisTick:{show:false},axisLabel:{customValues:[0,1,2,3],fontSize:8,color:'#444',fontFamily:FONT,margin:1.5}},
  {type:'category',data:fPatients,inverse:true,offset:-2.4,axisLine:{show:true,onZero:false,lineStyle:{color:'#999',width:.8}},axisTick:{show:false},
   axisLabel:{rotate:-90,interval:0,fontSize:7.6,color:'#444',fontFamily:FONT,margin:5}});
 const box=(d,c)=>series.push({type:'boxplot',xAxisIndex:g,yAxisIndex:g,data:d,boxWidth:[13,13],silent:true,itemStyle:{color:c,borderColor:'#565b66',borderWidth:.7}});
 box(fRedBoxes,'#e52a30');box(fBlueBoxes,'#3c51a5');
 const outl=(o,off)=>{const d=[];o.forEach((r,i)=>r.forEach(v=>d.push([v,i])));
  series.push({type:'scatter',xAxisIndex:g,yAxisIndex:g,data:d,symbolSize:1.4,symbolOffset:[0,off],silent:true,itemStyle:{color:'#222'}});};
 outl(fRedOut,-7.3);outl(fBlueOut,7.3);
 fPatients.forEach((p,i)=>{const y=857.3+i*39;L(776.7,y-7.5,776.7,y+7.5,'#666',.8);T(784,y+1,'★',{size:5.5,color:'#222'});});
 L(613.3,844,613.3,1063,'#888',.8);
 T(604,937,'Patients',{size:7.8,color:'#333',rot:-90});
 T(611.7,805,'Transcriptional Variability by scRNA-seq',{size:9.7,bold:true,align:'left'});
 T(625.7,820,'Average Gene Expression Variability',{size:8.4,align:'left',color:'#444'});
 R(634,1082.7,5.5,4.8,'#e52a30');T(644.3,1084.7,'Group 1 (strong protein regulation)',{size:8.2,bold:true,align:'left',color:'#222'});
 R(634,1094.7,5.5,4.8,'#3c51a5');T(644.3,1096.7,'Group 2 (strong RNA regulation)',{size:8.2,bold:true,align:'left',color:'#222'});
 L(586,787.3,799,787.3,'#c9c9c9',.9,[4,3]);L(586,787.3,586,1107,'#c9c9c9',.9,[4,3]);
}
[['A',14,8],['B',408,8],['C',14,351],['D',408,298],['E',383,588],['F',600,807]].forEach(a=>T(a[1],a[2],a[0],{size:18,bold:true,color:'#000'}));

const chart=echarts.init(document.getElementById('c'),null,{renderer:'canvas',width:799,height:1107});
chart.setOption({animation:false,backgroundColor:'#fff',grid:grids,xAxis:xAxes,yAxis:yAxes,visualMap:vmaps,series,graphic:{elements:gfx}});
</script></body></html>
